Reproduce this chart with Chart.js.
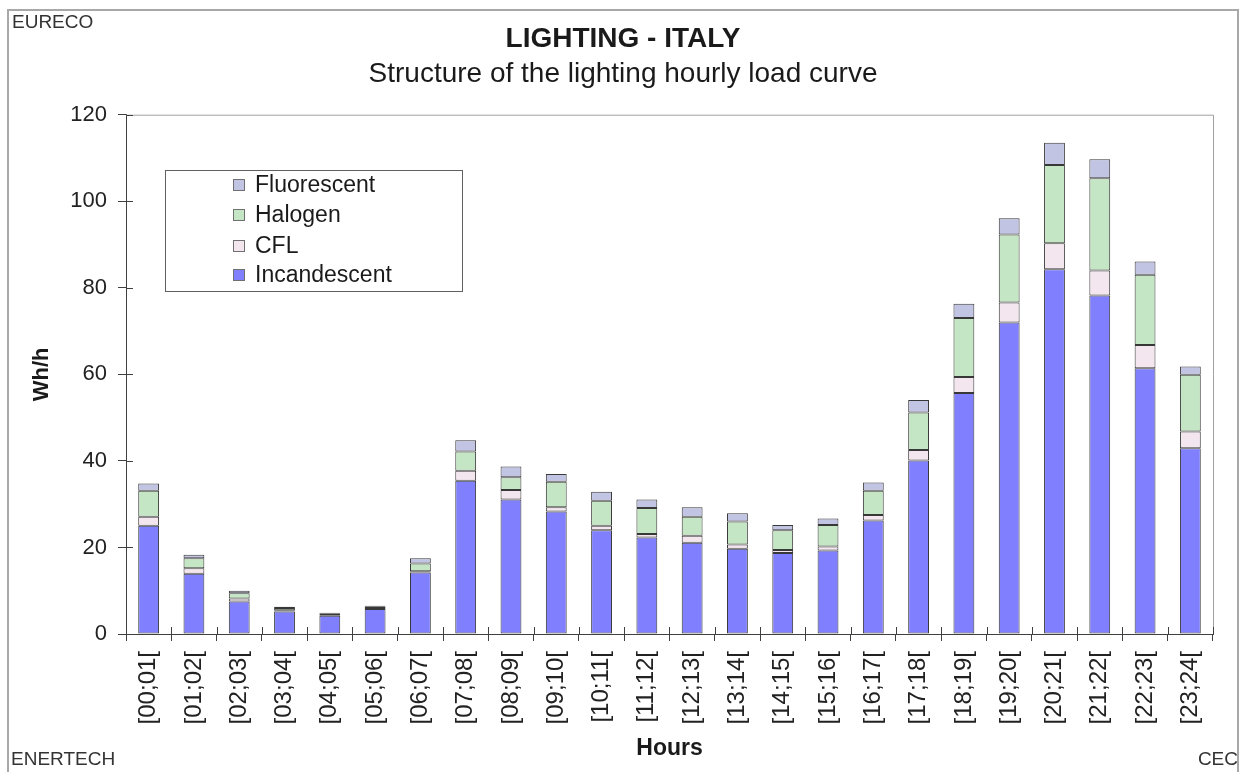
<!DOCTYPE html>
<html>
<head>
<meta charset="utf-8">
<script src="https://cdn.jsdelivr.net/npm/chart.js@4.4.1/dist/chart.umd.min.js"></script>
<style>
  html, body { margin: 0; padding: 0; background: #ffffff; }
  #wrap { width: 1246px; height: 772px; position: relative; }
</style>
</head>
<body>
<div id="wrap"><canvas id="c" width="1246" height="772"></canvas></div>
<script>
const hours = ["[00;01[", "[01;02[", "[02;03[", "[03;04[", "[04;05[", "[05;06[", "[06;07[", "[07;08[",
  "[08;09[", "[09;10[", "[10;11[", "[11;12[", "[12;13[", "[13;14[", "[14;15[", "[15;16[",
  "[16;17[", "[17;18[", "[18;19[", "[19;20[", "[20;21[", "[21;22[", "[22;23[", "[23;24["];

const incandescent = [25.0, 13.9, 7.5, 5.2, 4.2, 5.8, 14.2, 35.4, 31.1, 28.3, 24.0, 22.3,
  21.1, 19.7, 18.7, 19.3, 26.2, 40.1, 55.7, 72.0, 84.3, 78.2, 61.4, 42.9];
const cfl = [2.1, 1.3, 0.7, 0.3, 0.2, 0.2, 0.3, 2.3, 2.2, 1.0, 1.0, 0.8,
  1.6, 1.0, 0.7, 0.9, 1.3, 2.4, 3.7, 4.6, 6.0, 5.8, 5.4, 3.9];
const halogen = [6.0, 2.3, 1.2, 0.5, 0.3, 0.3, 1.8, 4.5, 2.9, 5.9, 5.8, 6.0,
  4.4, 5.3, 4.6, 5.0, 5.6, 8.7, 13.6, 15.7, 18.1, 21.3, 16.2, 13.1];
const fluorescent = [1.7, 0.8, 0.6, 0.3, 0.2, 0.2, 1.2, 2.6, 2.5, 1.8, 2.1, 2.0,
  2.2, 1.9, 1.2, 1.5, 1.9, 2.9, 3.3, 3.8, 5.1, 4.4, 3.1, 1.9];

const yTicks = [0, 20, 40, 60, 80, 100, 120];

const FONT = "'Liberation Sans', Arial, sans-serif";

const framePlugin = {
  id: 'frame',
  beforeDraw(chart) {
    const ctx = chart.ctx;
    ctx.save();
    ctx.fillStyle = '#ffffff';
    ctx.fillRect(0, 0, chart.width, chart.height);
    ctx.strokeStyle = '#a8a8a8';
    ctx.lineWidth = 2;
    ctx.beginPath();
    ctx.moveTo(8, 772);
    ctx.lineTo(8, 10);
    ctx.lineTo(1238, 10);
    ctx.lineTo(1238, 772);
    ctx.stroke();
    ctx.restore();
  },
  afterDraw(chart) {
    const ctx = chart.ctx;
    const ca = chart.chartArea;
    const xs = chart.scales.x, ys = chart.scales.y;
    ctx.save();
    // plot area top/right border
    ctx.strokeStyle = '#a0a0a0';
    ctx.lineWidth = 1;
    ctx.beginPath();
    ctx.moveTo(ca.left, ca.top + 0.5);
    ctx.lineTo(ca.right + 0.5, ca.top + 0.5);
    ctx.lineTo(ca.right + 0.5, ca.bottom);
    ctx.stroke();
    // cross ticks inside plot
    ctx.strokeStyle = '#404040';
    ctx.beginPath();
    ys.ticks.forEach(t => {
      const y = Math.round(ys.getPixelForValue(t.value)) + 0.5;
      ctx.moveTo(ca.left, y);
      ctx.lineTo(ca.left + 7, y);
    });
    const half = (xs.getPixelForValue(1) - xs.getPixelForValue(0)) / 2;
    for (let i = 0; i <= hours.length; i++) {
      const x = Math.round(xs.getPixelForValue(0) - half + i * 2 * half) + 0.5;
      ctx.moveTo(x, ca.bottom);
      ctx.lineTo(x, ca.bottom - 7);
    }
    ctx.stroke();

    // legend box
    const lx = 165, ly = 170, lw = 297, lh = 121;
    ctx.fillStyle = '#ffffff';
    ctx.fillRect(lx, ly, lw, lh);
    ctx.strokeStyle = '#606060';
    ctx.lineWidth = 1;
    ctx.strokeRect(lx + 0.5, ly + 0.5, lw, lh);
    const ds = chart.data.datasets.slice().reverse();
    const rowY = [185, 215, 246, 275];
    ctx.font = '23px ' + FONT;
    ctx.textBaseline = 'middle';
    ctx.textAlign = 'left';
    ds.forEach((d, i) => {
      const y = rowY[i];
      ctx.fillStyle = d.backgroundColor;
      ctx.fillRect(233, y - 6, 12, 12);
      ctx.strokeStyle = '#707070';
      ctx.strokeRect(233.5, y - 5.5, 11, 11);
      ctx.fillStyle = '#1a1a1a';
      ctx.fillText(d.label, 255, y + 1);
    });

    // corner labels
    ctx.fillStyle = '#333333';
    ctx.font = '19px ' + FONT;
    ctx.textAlign = 'left';
    ctx.fillText('EURECO', 12, 23);
    ctx.fillText('ENERTECH', 11, 760);
    ctx.textAlign = 'right';
    ctx.fillText('CEC', 1238, 760);
    ctx.restore();
  }
};

const common = { borderColor: '#383838', borderWidth: 1, borderSkipped: false, barPercentage: 0.46, categoryPercentage: 1.0 };

new Chart(document.getElementById('c'), {
  type: 'bar',
  data: {
    labels: hours,
    datasets: [
      Object.assign({ label: 'Incandescent', data: incandescent, backgroundColor: '#8080ff' }, common),
      Object.assign({ label: 'CFL', data: cfl, backgroundColor: '#f4e6ee' }, common),
      Object.assign({ label: 'Halogen', data: halogen, backgroundColor: '#c4e6c4' }, common),
      Object.assign({ label: 'Fluorescent', data: fluorescent, backgroundColor: '#c2c4e4' }, common)
    ]
  },
  options: {
    responsive: false,
    animation: false,
    devicePixelRatio: 1,
    layout: { padding: { left: 0, right: 0, top: 0, bottom: 0 } },
    plugins: {
      legend: { display: false },
      tooltip: { enabled: false },
      title: {
        display: true,
        text: 'LIGHTING - ITALY',
        color: '#1a1a1a',
        font: { family: FONT, size: 28, weight: 'bold', lineHeight: 1.2 },
        padding: { top: 22, bottom: 0 }
      },
      subtitle: {
        display: true,
        text: 'Structure of the lighting hourly load curve',
        color: '#1a1a1a',
        font: { family: FONT, size: 28, lineHeight: 1.2 },
        padding: { top: 1.5, bottom: 24 }
      }
    },
    scales: {
      x: {
        stacked: true,
        offset: true,
        grid: { display: true, drawOnChartArea: false, drawTicks: true, tickLength: 7, color: '#404040', offset: true },
        border: { display: true, color: '#404040', width: 1 },
        ticks: {
          autoSkip: false, maxRotation: 90, minRotation: 90, padding: 10,
          color: '#222222', font: { family: FONT, size: 24 }
        },
        title: {
          display: true, text: 'Hours', color: '#1a1a1a',
          font: { family: FONT, size: 23, weight: 'bold', lineHeight: 1.2 },
          padding: { top: 0, bottom: 10 }
        },
        afterFit(scale) { scale.height = 138; }
      },
      y: {
        stacked: true,
        min: 0, max: 120,
        afterBuildTicks(scale) { scale.ticks = yTicks.map(v => ({ value: v })); },
        grid: { display: true, drawOnChartArea: false, drawTicks: true, tickLength: 8, color: '#404040' },
        border: { display: true, color: '#404040', width: 1 },
        ticks: { padding: 11, color: '#222222', font: { family: FONT, size: 22 } },
        title: {
          display: true, text: 'Wh/h', color: '#1a1a1a',
          font: { family: FONT, size: 22, weight: 'bold', lineHeight: 1.2 },
          padding: { top: 29, bottom: 0 }
        },
        afterFit(scale) { scale.width = 126; }
      },
      yR: {
        position: 'right',
        display: true,
        min: 0, max: 120,
        grid: { display: false, drawTicks: false },
        border: { display: false },
        ticks: { display: false },
        afterFit(scale) { scale.width = 33; }
      }
    }
  },
  plugins: [framePlugin]
});
</script>
</body>
</html>
